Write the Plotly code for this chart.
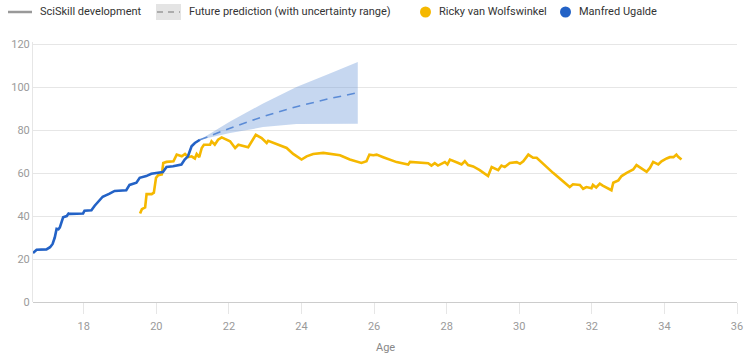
import plotly.graph_objects as go

# Manfred Ugalde (blue)
manfred_age = [16.6, 16.7, 16.97, 17.07, 17.14, 17.2, 17.25, 17.3, 17.34, 17.38, 17.43, 17.53, 17.58, 17.62, 17.98, 18.02, 18.21,
               18.3, 18.43, 18.52, 18.71, 18.85, 19.17, 19.26, 19.45, 19.54, 19.72, 19.86, 20.18, 20.28, 20.46, 20.69,
               20.78, 20.87, 20.97, 21.06, 21.2]
manfred_val = [22.8, 24.3, 24.5, 25.5, 27.0, 30.0, 34.0, 33.8, 34.7, 37.0, 39.4, 40.0, 41.2, 41.0, 41.2, 42.5, 42.7,
               44.8, 47.0, 49.0, 50.4, 51.7, 52.0, 54.5, 55.5, 57.8, 58.6, 59.7, 60.5, 62.8, 63.2, 64.0,
               66.3, 67.8, 72.5, 74.0, 75.5]

# Ricky van Wolfswinkel (yellow)
ricky_age = [19.55, 19.6, 19.69, 19.73, 19.87, 19.93, 19.99, 20.05, 20.15, 20.19, 20.28, 20.47, 20.56, 20.7, 20.79,
             20.88, 20.97, 21.06, 21.11, 21.18, 21.25, 21.31, 21.48, 21.52, 21.61, 21.7, 21.8, 21.94, 22.03, 22.17,
             22.26, 22.53, 22.62, 22.74, 22.9, 23.04, 23.08, 23.31, 23.59, 23.77, 24.0, 24.14, 24.32, 24.6, 24.78,
             25.06, 25.33, 25.65, 25.79, 25.87, 25.98, 26.07, 26.25, 26.43, 26.62, 26.94, 26.99, 27.49, 27.58,
             27.67, 27.76, 27.95, 28.02, 28.09, 28.23, 28.32, 28.41, 28.5, 28.59, 28.73, 28.91, 29.05, 29.14,
             29.24, 29.42, 29.51, 29.6, 29.74, 29.93, 30.02, 30.11, 30.25, 30.38, 30.48, 30.93, 31.39, 31.48,
             31.67, 31.76, 31.85, 31.99, 32.03, 32.12, 32.22, 32.3, 32.54, 32.59, 32.73, 32.82, 32.96, 33.14,
             33.23, 33.32, 33.51, 33.6, 33.69, 33.83, 33.92, 34.06, 34.15, 34.25, 34.33, 34.38, 34.47]
ricky_val = [41.2, 43.2, 44.0, 50.2, 50.2, 50.9, 57.8, 59.0, 59.4, 64.7, 65.2, 65.5, 68.6, 67.8, 68.9,
             67.4, 67.8, 66.8, 68.9, 67.4, 71.7, 73.2, 73.2, 74.8, 73.2, 75.5, 76.6, 75.5, 74.8, 71.7,
             73.2, 72.0, 74.8, 77.8, 76.3, 74.0, 75.0, 73.5, 71.7, 68.9, 66.3, 67.8, 68.9, 69.4, 68.9,
             68.3, 66.3, 64.7, 65.5, 68.6, 68.3, 68.6, 67.4, 66.3, 65.1, 64.0, 65.2, 64.6, 63.5,
             64.6, 63.5, 65.1, 64.0, 66.3, 65.5, 64.7, 64.0, 65.5, 63.7, 63.1, 61.4, 59.8, 58.6,
             62.8, 61.4, 63.5, 62.8, 64.7, 65.1, 64.3, 65.5, 68.6, 67.1, 67.1, 60.1, 53.5, 54.8,
             54.5, 52.7, 53.5, 52.9, 54.5, 53.3, 55.1, 54.2, 52.0, 55.5, 56.6, 58.6, 60.1, 61.7,
             63.7, 62.8, 60.6, 62.4, 65.2, 64.0, 65.5, 66.8, 67.4, 67.4, 68.6, 67.6, 66.3]

# Future prediction
pred_age = [21.2, 22.03, 22.94, 23.86, 24.78, 25.55]
pred_mid = [75.5, 80.9, 86.3, 90.9, 94.7, 97.4]
pred_upper = [75.5, 84.0, 92.4, 100.1, 106.3, 111.7]
pred_lower = [75.5, 78.6, 81.4, 82.8, 83.0, 82.9]

x_ticks = [18, 20, 22, 24, 26, 28, 30, 32, 34, 36]
y_ticks = [0, 20, 40, 60, 80, 100, 120]

legend_labels = ["SciSkill development", "Future prediction (with uncertainty range)",
                 "Ricky van Wolfswinkel", "Manfred Ugalde"]

BLUE = "#2362c6"
YELLOW = "#f5b800"
FONT = "Roboto, sans-serif"
TICK_FONT = dict(family=FONT, size=11, color="#9a9a9a")
LEG_FONT = dict(family=FONT, size=11, color="#333333")

W, H = 750, 353
ML, MR, MT, MB = 33, 13, 42, 51
PW, PH = W - ML - MR, H - MT - MB


def px(x):
    return (x - ML) / PW


def py(y):
    return (H - MB - y) / PH


fig = go.Figure()

# uncertainty band
fig.add_trace(go.Scatter(x=pred_age + pred_age[::-1], y=pred_upper + pred_lower[::-1],
                         fill="toself", fillcolor="rgba(120,160,220,0.42)", line=dict(width=0),
                         mode="lines", hoverinfo="skip", showlegend=False))
fig.add_trace(go.Scatter(x=pred_age, y=pred_mid, mode="lines",
                         line=dict(color="#5b8bd6", width=1.6, dash="8px,6px"), showlegend=False))
fig.add_trace(go.Scatter(x=ricky_age, y=ricky_val, mode="lines",
                         line=dict(color=YELLOW, width=2.6), showlegend=False))
fig.add_trace(go.Scatter(x=manfred_age, y=manfred_val, mode="lines",
                         line=dict(color=BLUE, width=2.6), showlegend=False))

# manual legend
shapes = [
    dict(type="line", xref="paper", yref="paper", x0=px(8), x1=px(32), y0=py(12), y1=py(12),
         line=dict(color="#999999", width=2.5)),
    dict(type="rect", xref="paper", yref="paper", x0=px(156), x1=px(181), y0=py(4), y1=py(20),
         fillcolor="#e4e4e4", line=dict(width=0)),
    dict(type="line", xref="paper", yref="paper", x0=px(157), x1=px(180), y0=py(12), y1=py(12),
         line=dict(color="#999999", width=1.5, dash="6px,5px")),
    dict(type="circle", xref="paper", yref="paper", x0=px(420), x1=px(431), y0=py(6.5), y1=py(17.5),
         fillcolor=YELLOW, line=dict(width=0)),
    dict(type="circle", xref="paper", yref="paper", x0=px(560), x1=px(571), y0=py(6.5), y1=py(17.5),
         fillcolor=BLUE, line=dict(width=0)),
]
leg_x = [38, 187, 437, 577]
annotations = [dict(text=t, x=px(xx), y=py(12), xref="paper", yref="paper", xanchor="left", yanchor="middle",
                    showarrow=False, font=LEG_FONT)
               for t, xx in zip(legend_labels, leg_x)]
annotations.append(dict(text="Age", x=0.5, xref="paper", y=0, yref="paper", yshift=-45, yanchor="middle",
                        showarrow=False, font=dict(family=FONT, size=11, color="#888888")))

fig.update_layout(
    width=W, height=H,
    margin=dict(l=ML, r=MR, t=MT, b=MB, autoexpand=False),
    paper_bgcolor="white", plot_bgcolor="white",
    showlegend=False,
    xaxis=dict(range=[16.6, 36], tickvals=x_ticks, ticktext=[str(t) for t in x_ticks],
               showgrid=False, zeroline=False, showline=False, automargin=False,
               ticks="outside", ticklen=11, tickcolor="#e6e6e6", tickwidth=1,
               ticklabelstandoff=3, tickfont=TICK_FONT),
    yaxis=dict(range=[0, 121], tickvals=y_ticks, showgrid=True, gridcolor="#e6e6e6", gridwidth=1,
               zeroline=True, zerolinecolor="#cccccc", zerolinewidth=1, automargin=False,
               showline=True, linecolor="#e6e6e6", linewidth=1,
               ticks="", tickfont=TICK_FONT),
    shapes=shapes,
    annotations=annotations,
)

fig.write_html("out.html")
